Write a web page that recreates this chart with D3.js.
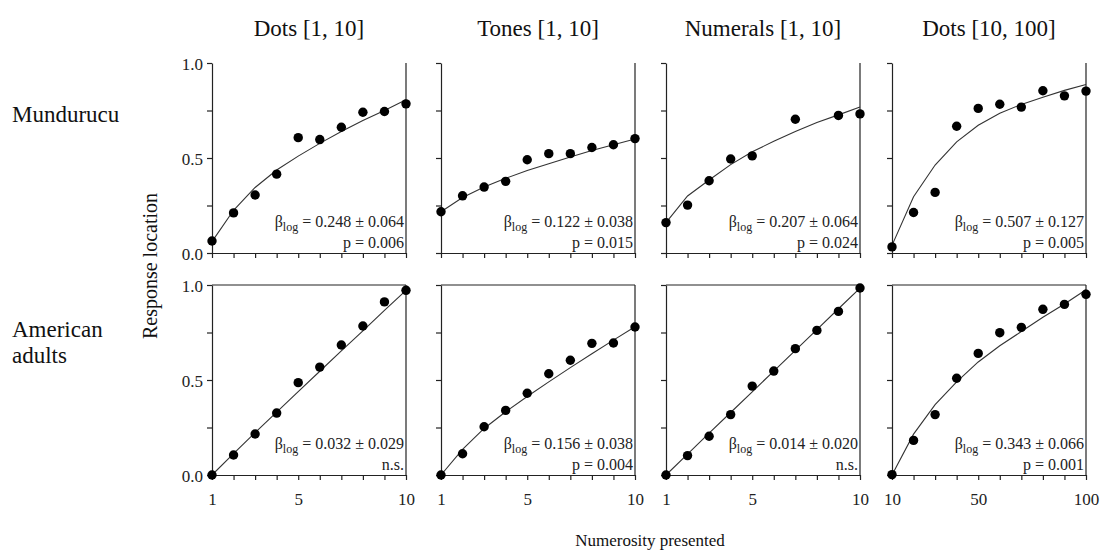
<!DOCTYPE html>
<html>
<head>
<meta charset="utf-8">
<script src="https://cdn.jsdelivr.net/npm/d3@7"></script>
<style>
  html, body { margin: 0; padding: 0; background: #fff; }
  svg { display: block; font-family: "Liberation Serif", "Times New Roman", serif; }
</style>
</head>
<body>
<svg id="chart" width="1100" height="557"></svg>
<script>
// Column conditions and row groups
const columnTitles = ["Dots [1, 10]", "Tones [1, 10]", "Numerals [1, 10]", "Dots [10, 100]"];
const rowLabels = [["Mundurucu"], ["American", "adults"]];

// Numerosities shown in each range
const smallRange = [1, 2, 3, 4, 5, 6, 7, 8, 9, 10];
const largeRange = [10, 20, 30, 40, 50, 60, 70, 80, 90, 100];
const smallTickLabels = [1, 5, 10];
const largeTickLabels = [10, 50, 100];
const yTicks = [0, 0.25, 0.5, 0.75, 1];
const yTickLabels = [0, 0.5, 1];

// Mean response location (null = not presented)
const mundDots     = [0.063, 0.211, 0.305, 0.415, 0.607, 0.597, 0.662, 0.741, 0.745, 0.785];
const mundTones    = [0.217, 0.301, 0.347, 0.377, 0.491, 0.523, 0.523, 0.555, 0.570, 0.602];
const mundNumerals = [0.160, 0.252, 0.380, 0.495, 0.511, null, 0.704, null, 0.724, 0.732];
const mundDotsBig  = [0.032, 0.213, 0.319, 0.667, 0.761, 0.783, 0.768, 0.854, 0.827, 0.852];
const amDots       = [0.000, 0.105, 0.216, 0.326, 0.486, 0.568, 0.684, 0.784, 0.911, 0.972];
const amTones      = [0.000, 0.112, 0.254, 0.340, 0.430, 0.533, 0.604, 0.693, 0.695, 0.779];
const amNumerals   = [0.000, 0.102, 0.204, 0.318, 0.468, 0.547, 0.665, 0.761, 0.861, 0.984];
const amDotsBig    = [0.002, 0.182, 0.318, 0.509, 0.640, 0.749, 0.777, 0.872, 0.898, 0.951];

// Fitted mixed log-linear model at each numerosity
const mundDotsFit     = [0.060, 0.225, 0.345, 0.437, 0.510, 0.577, 0.639, 0.697, 0.750, 0.806];
const mundTonesFit    = [0.217, 0.292, 0.347, 0.393, 0.434, 0.470, 0.505, 0.539, 0.570, 0.600];
const mundNumeralsFit = [0.160, 0.300, 0.384, 0.465, 0.533, 0.588, 0.639, 0.687, 0.727, 0.768];
const mundDotsBigFit  = [0.040, 0.296, 0.463, 0.585, 0.672, 0.736, 0.782, 0.820, 0.856, 0.887];
const amDotsFit       = [0.000, 0.113, 0.223, 0.331, 0.439, 0.546, 0.653, 0.759, 0.866, 0.972];
const amTonesFit      = [0.000, 0.135, 0.245, 0.333, 0.413, 0.490, 0.565, 0.638, 0.710, 0.780];
const amNumeralsFit   = [0.000, 0.110, 0.220, 0.329, 0.438, 0.547, 0.656, 0.765, 0.875, 0.984];
const amDotsBigFit    = [0.000, 0.215, 0.370, 0.490, 0.595, 0.680, 0.755, 0.830, 0.900, 0.975];

// Fit statistics
const betaValues = ["0.248 ± 0.064", "0.122 ± 0.038", "0.207 ± 0.064", "0.507 ± 0.127",
                    "0.032 ± 0.029", "0.156 ± 0.038", "0.014 ± 0.020", "0.343 ± 0.066"];
const pValues = ["p = 0.006", "p = 0.015", "p = 0.024", "p = 0.005",
                 "n.s.", "p = 0.004", "n.s.", "p = 0.001"];

const panels = [
  { row: 0, col: 0, xs: smallRange, ys: mundDots,     fit: mundDotsFit },
  { row: 0, col: 1, xs: smallRange, ys: mundTones,    fit: mundTonesFit },
  { row: 0, col: 2, xs: smallRange, ys: mundNumerals, fit: mundNumeralsFit },
  { row: 0, col: 3, xs: largeRange, ys: mundDotsBig,  fit: mundDotsBigFit },
  { row: 1, col: 0, xs: smallRange, ys: amDots,       fit: amDotsFit },
  { row: 1, col: 1, xs: smallRange, ys: amTones,      fit: amTonesFit },
  { row: 1, col: 2, xs: smallRange, ys: amNumerals,   fit: amNumeralsFit },
  { row: 1, col: 3, xs: largeRange, ys: amDotsBig,    fit: amDotsBigFit }
];

// Layout
const colLeft = [212, 441, 666, 892];
const panelW = 194;
const rowTop = [63, 285];
const panelH = 190;
const serif = "Liberation Serif, Times New Roman, serif";

const svg = d3.select("#chart");

// Column titles
columnTitles.forEach((t, i) => {
  svg.append("text")
    .attr("x", colLeft[i] + panelW / 2)
    .attr("y", 36)
    .attr("text-anchor", "middle")
    .attr("font-size", 23)
    .attr("fill", "#111")
    .text(t);
});

// Row labels
const rowLabelY = [[122], [337, 363]];
rowLabels.forEach((lines, r) => {
  lines.forEach((ln, k) => {
    svg.append("text")
      .attr("x", 12)
      .attr("y", rowLabelY[r][k])
      .attr("font-size", 23)
      .attr("fill", "#111")
      .text(ln);
  });
});

// Shared axis titles
svg.append("text")
  .attr("transform", "translate(157,266) rotate(-90)")
  .attr("text-anchor", "middle")
  .attr("font-size", 20)
  .attr("fill", "#111")
  .text("Response location");

svg.append("text")
  .attr("x", 650)
  .attr("y", 546)
  .attr("text-anchor", "middle")
  .attr("font-size", 17)
  .attr("fill", "#111")
  .text("Numerosity presented");

panels.forEach((p, idx) => {
  const x0 = colLeft[p.col], y0 = rowTop[p.row];
  const x = d3.scaleLinear().domain([p.xs[0], p.xs[p.xs.length - 1]]).range([x0, x0 + panelW]);
  const y = d3.scaleLinear().domain([0, 1]).range([y0 + panelH, y0]);
  const g = svg.append("g");

  // Frame: the bottom row is fully boxed, the top row is open at the top
  g.append("line").attr("x1", x0 + panelW).attr("x2", x0 + panelW)
    .attr("y1", y0).attr("y2", y0 + panelH)
    .attr("stroke", "#222").attr("stroke-width", 1.2);
  if (p.row === 1) {
    g.append("line").attr("x1", x0).attr("x2", x0 + panelW)
      .attr("y1", y0).attr("y2", y0)
      .attr("stroke", "#222").attr("stroke-width", 1.2);
  }

  // Left axis
  const yAxis = d3.axisLeft(y).tickValues(yTicks).tickSize(5).tickSizeOuter(0)
    .tickFormat(d => (p.col === 0 && yTickLabels.includes(d)) ? d3.format(".1f")(d) : "");
  const ya = g.append("g").attr("transform", `translate(${x0},0)`).call(yAxis);
  ya.select(".domain").attr("stroke", "#222").attr("stroke-width", 1.2);
  ya.selectAll(".tick line").attr("stroke", "#222").attr("stroke-width", 1.2);
  ya.selectAll(".tick text")
    .attr("font-family", serif)
    .attr("font-size", 17).attr("fill", "#222").attr("x", -9).attr("dy", "0.36em");

  // Bottom axis
  const labels = p.xs === smallRange ? smallTickLabels : largeTickLabels;
  const xAxis = d3.axisBottom(x).tickValues(p.xs).tickSize(5).tickSizeOuter(0)
    .tickFormat(d => (p.row === 1 && labels.includes(d)) ? d : "");
  const xa = g.append("g").attr("transform", `translate(0,${y0 + panelH})`).call(xAxis);
  xa.select(".domain").attr("stroke", "#222").attr("stroke-width", 1.2);
  xa.selectAll(".tick line").attr("stroke", "#222").attr("stroke-width", 1.2);
  xa.selectAll(".tick text")
    .attr("font-family", serif)
    .attr("font-size", 17).attr("fill", "#222").attr("y", 18);

  // Fitted curve
  const line = d3.line().x((d, i) => x(p.xs[i])).y(d => y(d));
  g.append("path").datum(p.fit)
    .attr("d", line)
    .attr("fill", "none").attr("stroke", "#333").attr("stroke-width", 1.1);

  // Observed means
  g.selectAll("circle.pt")
    .data(p.ys.map((v, i) => ({ n: p.xs[i], v })).filter(d => d.v !== null))
    .join("circle")
    .attr("class", "pt")
    .attr("cx", d => x(d.n)).attr("cy", d => y(d.v)).attr("r", 4.7)
    .attr("fill", "#000");

  // Statistics
  const bt = g.append("text")
    .attr("x", x0 + panelW - 2).attr("y", y0 + panelH - 26)
    .attr("text-anchor", "end").attr("font-size", 16).attr("fill", "#222");
  bt.append("tspan").text("β");
  bt.append("tspan").attr("font-size", 12).attr("dy", 4).text("log");
  bt.append("tspan").attr("dy", -4).text(" = " + betaValues[idx]);

  g.append("text")
    .attr("x", x0 + panelW - 2).attr("y", y0 + panelH - 5)
    .attr("text-anchor", "end").attr("font-size", 16).attr("fill", "#222")
    .text(pValues[idx]);
});
</script>
</body>
</html>
